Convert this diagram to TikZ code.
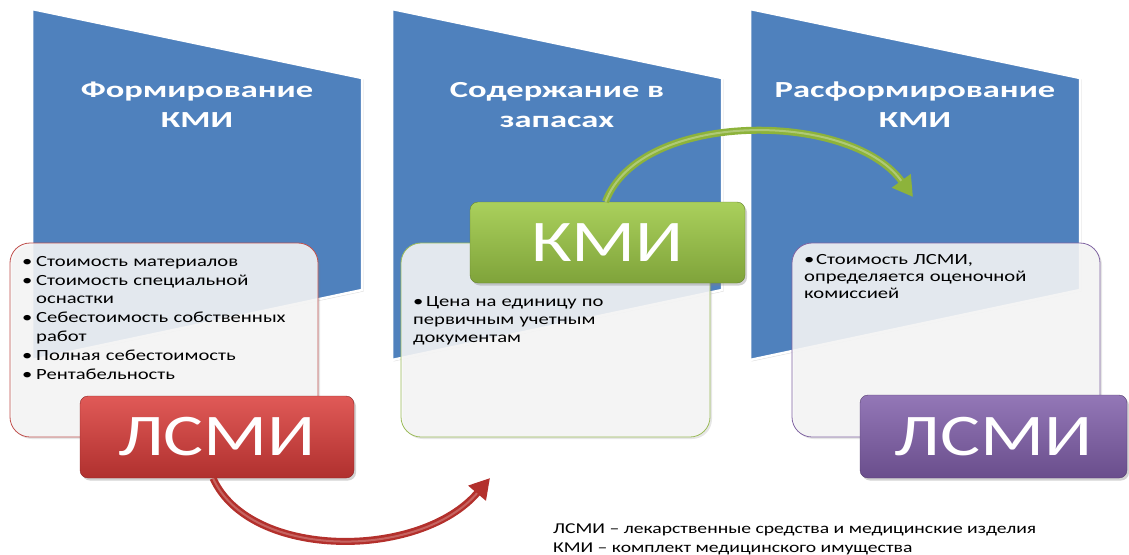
\documentclass[tikz,border=0pt]{standalone}
\usepackage{fontspec}
\setmainfont{Carlito}
\newfontfamily\bodyf[FakeStretch=1.33]{Carlito}
\newfontfamily\legf[FakeStretch=1.31]{Carlito}
\newfontfamily\titlef[FakeStretch=1.5]{Carlito}
\newfontfamily\tagf[FakeStretch=1.27]{Carlito}
\usetikzlibrary{arrows.meta,shadows}
\definecolor{panelblue}{HTML}{4F81BD}
\definecolor{boxfill}{HTML}{F7F7F7}
\definecolor{redborder}{HTML}{C0504D}
\definecolor{greenborder}{HTML}{9BBB59}
\definecolor{purpleborder}{HTML}{8064A2}
\definecolor{redtop}{HTML}{E05A57}
\definecolor{redbot}{HTML}{B0302E}
\definecolor{greentop}{HTML}{AAD05C}
\definecolor{greenbot}{HTML}{7FA33A}
\definecolor{purptop}{HTML}{9377B7}
\definecolor{purpbot}{HTML}{6A4E8C}
\definecolor{arrowred}{HTML}{B3302C}
\definecolor{arrowgreen}{HTML}{8DB33B}
\newcommand\bitem[2][13pt]{\par\hangindent=#1\hangafter=1\noindent\makebox[#1][l]{\textbullet}\rule{0pt}{11pt}#2}
\tikzset{
  panel/.style={fill=panelblue, draw=white, line width=2.5pt,
    drop shadow={opacity=0.25, shadow xshift=1.5pt, shadow yshift=-1.5pt}},
  title/.style={text=white, align=center, font=\titlef\bfseries\fontsize{23}{30}\selectfont},
  infobox/.style={rounded corners=20pt, fill=boxfill, fill opacity=0.88, line width=0.8pt,
    drop shadow={opacity=0.2, shadow xshift=2pt, shadow yshift=-2pt}},
  bodytext/.style={anchor=north west, inner sep=0pt, text width=320pt, align=left,
    font=\bodyf\fontsize{15.5}{18.9}\selectfont},
  tagbox/.style={rounded corners=8pt, text=white, inner sep=0pt,
    font=\tagf\fontsize{59}{60}\selectfont,
    drop shadow={opacity=0.35, shadow xshift=2pt, shadow yshift=-2.5pt}},
}
\begin{document}
\begin{tikzpicture}[x=1pt,y=-1pt]
\useasboundingbox (0,0) rectangle (1129,554);
% panels
\foreach \x in {32,392,750}{
  \path[panel] (\x,9) -- (\x+330,78) -- (\x+330,290) -- (\x,360) -- cycle;
}
\node[title] (h1) at (197,105) {Формирование\\КМИ};
\node[title] (h2) at (557,105) {Содержание в\\запасах};
\node[title] (h3) at (915,105) {Расформирование\\КМИ};
% info boxes
\node[infobox, draw=redborder, minimum width=308pt, minimum height=194pt] (b1) at (164,340) {};
\node[infobox, draw=greenborder, minimum width=309pt, minimum height=194pt] (b2) at (555.5,340) {};
\node[infobox, draw=purpleborder, minimum width=308pt, minimum height=194pt] (b3) at (946,340) {};
\node[bodytext] (x1) at (22,247) {\bitem[14pt]{Стоимость материалов}\bitem[14pt]{Стоимость специальной\newline оснастки}\bitem[14pt]{Себестоимость собственных\newline работ}\bitem[14pt]{Полная себестоимость}\bitem[14pt]{Рентабельность}};
\node[bodytext, font=\bodyf\fontsize{15.5}{18}\selectfont] (x2) at (413,288) {\bitem{Цена на единицу по\newline первичным учетным\newline документам}};
\node[bodytext, font=\bodyf\fontsize{15.5}{17}\selectfont] (x3) at (804,247) {\bitem[12pt]{Стоимость ЛСМИ,\newline определяется оценочной\newline комиссией}};
% tags
\node[tagbox, top color=redtop, bottom color=redbot, draw=redbot!80!black, minimum width=274pt, minimum height=82pt] (t1) at (217,437) {ЛСМИ};
% arrows
\coordinate (e1) at (490,478);
\coordinate (e2) at (913,197);
\draw[line width=7pt, arrowred, -{Triangle[length=20pt,width=22pt]}] ([xshift=-4pt]t1.south) .. controls (250,560) and (420,560) .. (e1);
\draw[line width=2pt, white, opacity=0.25, shorten >=20pt] ([xshift=-4pt]t1.south) .. controls (250,560) and (420,560) .. (e1);
\node[tagbox, top color=greentop, bottom color=greenbot, draw=greenbot!80!black, minimum width=275pt, minimum height=81pt] (t2) at (607.5,242.5) {КМИ};
\draw[line width=7pt, arrowgreen, -{Triangle[length=20pt,width=22pt]}] ([xshift=-2pt]t2.north) .. controls (640,110) and (850,110) .. (e2);
\draw[line width=2pt, white, opacity=0.3, shorten >=20pt] ([xshift=-2pt]t2.north) .. controls (640,110) and (850,110) .. (e2);
\node[tagbox, top color=purptop, bottom color=purpbot, draw=purpbot!80!black, minimum width=267pt, minimum height=83pt] (t3) at (993.5,436.5) {ЛСМИ};
% legend
\node[anchor=north west, inner sep=0pt, align=left, font=\legf\fontsize{15}{19}\selectfont] (lg) at (553,522) {\rule{0pt}{11pt}ЛСМИ – лекарственные средства и медицинские изделия\\КМИ – комплект медицинского имущества};
\end{tikzpicture}
\end{document}
